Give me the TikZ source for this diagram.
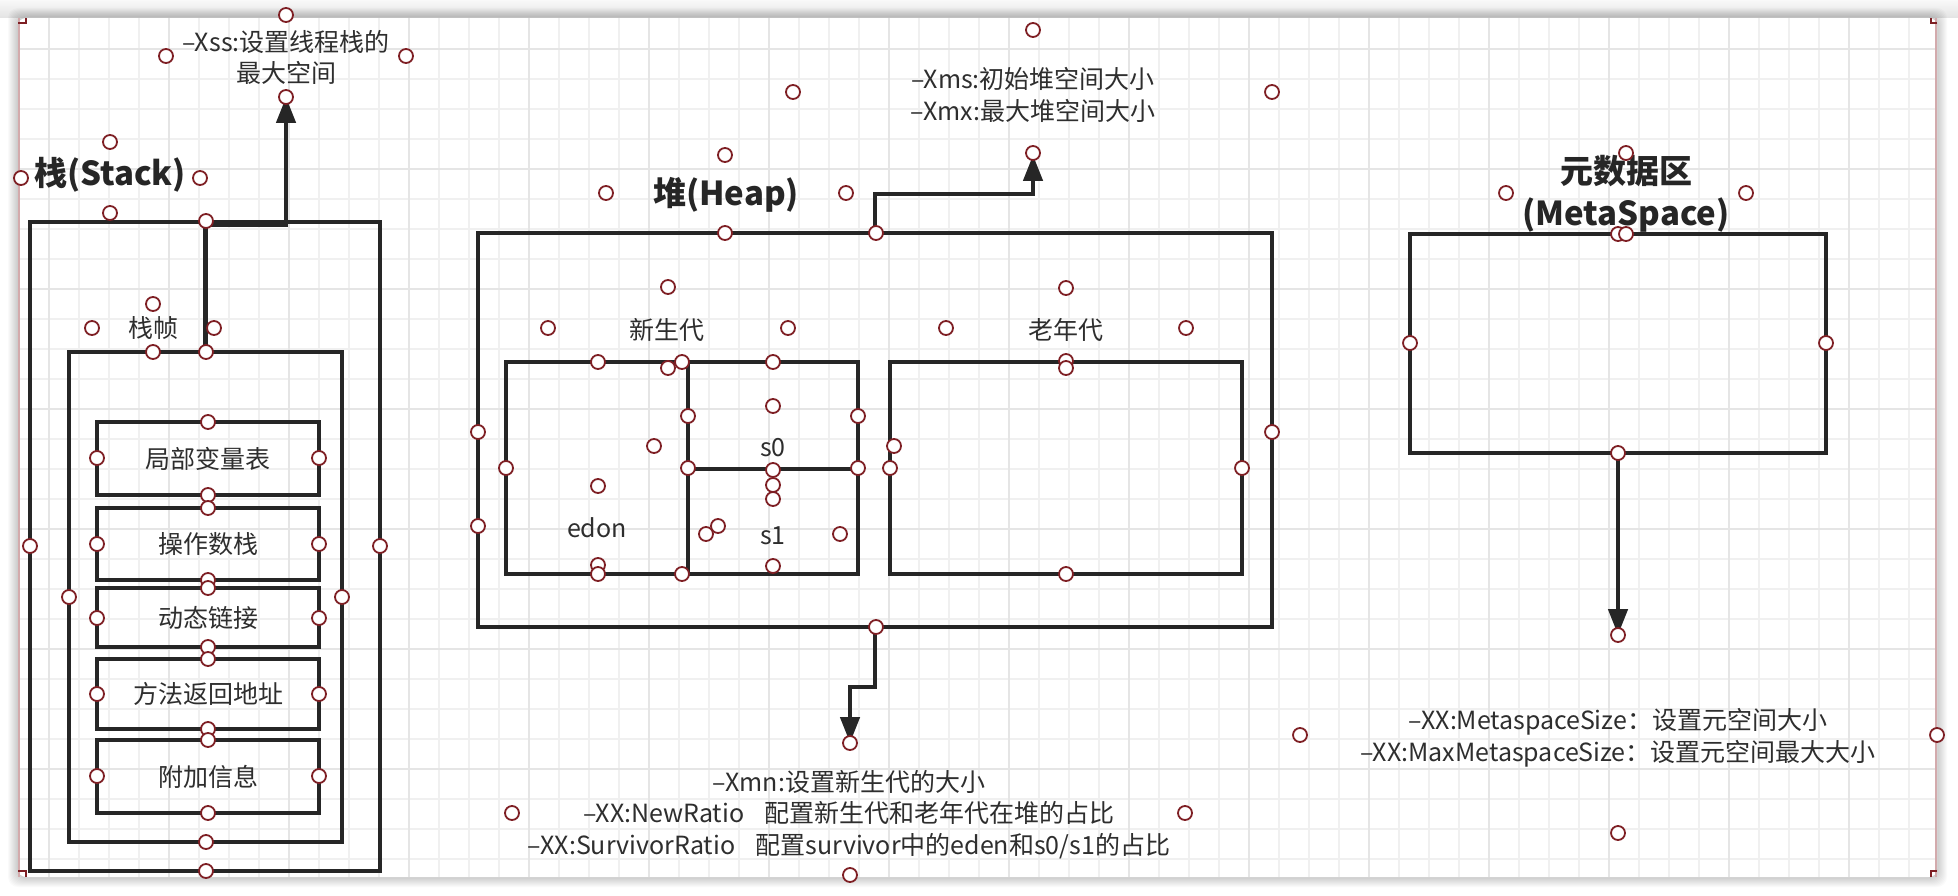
\documentclass[tikz,border=0pt]{standalone}
\usepackage{fontspec}
\setmainfont{Noto Sans CJK SC}
\usetikzlibrary{arrows.meta,positioning}

\definecolor{ink}{HTML}{262626}
\definecolor{txt}{HTML}{2E2E2E}
\definecolor{hred}{HTML}{7E1F24}
\definecolor{gridminor}{HTML}{F0F0F0}
\definecolor{gridmajor}{HTML}{E5E5E5}
\definecolor{edgered}{HTML}{D3AAAC}

\begin{document}
\begin{tikzpicture}[
    x=1pt, y=-1pt,
    % --- Box styles ---
    box/.style={draw=ink, line width=4.2pt, inner sep=0pt, text=txt,
                font=\fontsize{25}{30}\selectfont},
    rowbox/.style={box, minimum width=222pt},
    % --- Text styles ---
    title/.style={text=ink, font=\bfseries\fontsize{33}{42}\selectfont, align=center},
    lbl/.style={text=txt, font=\fontsize{25}{30}\selectfont},
    note/.style={text=txt, font=\fontsize{25}{31.5}\selectfont, align=center},
    % --- Connectors and handles ---
    arr/.style={draw=ink, line width=4.6pt, -{Triangle[length=26pt,width=19pt]}},
    handle/.style={draw=hred, fill=white, line width=1.8pt},
]

% === Canvas ===
\useasboundingbox (0,0) rectangle (1958,896);
\fill[white] (0,0) rectangle (1958,896);
\shade[top color=gray!5, bottom color=gray!22] (0,0) rectangle (1958,18);
\foreach \s in {1,...,10}
  \fill[black, opacity=0.018, rounded corners=10pt] ({18-\s},{18-\s}) rectangle ({1937+\s},{877+\s});
\fill[white, rounded corners=8pt] (18,18) rectangle (1937,877);
\begin{scope}
  \clip[rounded corners=8pt] (18,18) rectangle (1937,877);
  \foreach \gx in {49,79,...,1909} \draw[gridminor, line width=1.3pt] (\gx,18) -- (\gx,877);
  \foreach \gy in {49,79,...,859} \draw[gridminor, line width=1.3pt] (18,\gy) -- (1937,\gy);
  \foreach \gx in {49,169,...,1849} \draw[gridmajor, line width=1.5pt] (\gx,18) -- (\gx,877);
  \foreach \gy in {49,169,...,769} \draw[gridmajor, line width=1.5pt] (18,\gy) -- (1937,\gy);
\end{scope}
\draw[edgered, line width=1.5pt] (19,18) -- (19,877);
\draw[edgered, line width=1.5pt] (1936,18) -- (1936,877);
\draw[hred, line width=1.6pt] (18,23) -- (26,23) -- (26,18);
\draw[hred, line width=1.6pt] (1937,23) -- (1931,23) -- (1931,18);
\draw[hred, line width=1.6pt] (18,871) -- (26,871) -- (26,877);
\draw[hred, line width=1.6pt] (1937,871) -- (1931,871) -- (1931,877);

% === Stack ===
\node[title] (stacktitle) at (110,175) {栈(Stack)};
\node[box, minimum width=350pt, minimum height=649pt] (stack) at (205,546.5) {};
\node[lbl] (framelbl) at (153,328) {栈帧};
\node[box, minimum width=273pt, minimum height=490pt] (frame) at (205.5,597) {};
\node[rowbox, minimum height=73pt] (locals) at (208,458.5) {局部变量表};
\node[rowbox, minimum height=72pt] (operand) at (208,544) {操作数栈};
\node[rowbox, minimum height=59pt] (dynlink) at (208,617.5) {动态链接};
\node[rowbox, minimum height=70pt] (retaddr) at (208,694) {方法返回地址};
\node[rowbox, minimum height=73pt] (extra) at (208,776.5) {附加信息};

% === Heap ===
\node[title] (heaptitle) at (726,195) {堆(Heap)};
\node[box, minimum width=794pt, minimum height=394pt] (heap) at (875,430) {};
\node[lbl] (younglbl) at (667,330) {新生代};
\node[lbl] (oldlbl) at (1066,330) {老年代};
\node[box, minimum width=182pt, minimum height=212pt] (eden) at (597,468) {};
\node[box, minimum width=170pt, minimum height=107pt] (szero) at (773,415.5) {};
\node[box, minimum width=170pt, minimum height=105pt] (sone) at (773,521.5) {};
\node[box, minimum width=352pt, minimum height=212pt] (old) at (1066,468) {};
\node[lbl] (edenlbl) at (597,528) {edon};
\node[lbl] (szerolbl) at (773,448) {s0};
\node[lbl] (sonelbl) at (773,536) {s1};

% === MetaSpace ===
\node[title] (metatitle) at (1626,194) {元数据区\\(MetaSpace)};
\node[box, minimum width=416pt, minimum height=219pt] (meta) at (1618,343.5) {};

% === Parameter arrows ===
\coordinate (xssBend) at (286,225);
\coordinate (xssTip) at (286,97);
\draw[arr] (frame.north) |- (xssBend) -- (xssTip);
\coordinate (xmsBend) at (1033,194);
\coordinate (xmsTip) at (1033,155);
\draw[arr] (heap.north) |- (xmsBend) -- (xmsTip);
\coordinate (xmnBend) at (850,687);
\coordinate (xmnTip) at (850,743);
\draw[arr] (heap.south) |- (xmnBend) -- (xmnTip);
\coordinate (metaTip) at (1618,635);
\draw[arr] (meta.south) -- (metaTip);

% === Parameter notes ===
\node[note] (xssnote) at (286,57.5) {–Xss:设置线程栈的\\最大空间};
\node[note] (xmsnote) at (1033,95) {–Xms:初始堆空间大小\\–Xmx:最大堆空间大小};
\node[note] (xmnnote) at (849,814.5) {–Xmn:设置新生代的大小\\
  –XX:NewRatio\hspace{0.6em} 配置新生代和老年代在堆的占比\\
  –XX:SurvivorRatio\hspace{0.6em} 配置survivor中的eden和s0/s1的占比};
\node[note] (metanote) at (1618,738) {–XX:MetaspaceSize：设置元空间大小\\
  –XX:MaxMetaspaceSize：设置元空间最大大小};

% === Selection handles ===
\foreach \p in {(286,15),(166,56),(406,56),(286,97),(110,142),(21,178),(200,178),(110,213),
    (206,221),(153,304),(92,328),(214,328),(153,352),(206,352),
    (208,422),(97,458),(319,458),(208,495),(208,508),(97,544),(319,544),(208,580),
    (208,588),(97,618),(319,618),(208,647),(208,659),(97,694),(319,694),(208,729),
    (208,740),(97,776),(319,776),(208,813),(69,597),(342,597),(206,842),
    (30,546),(380,546),(206,871)}
  \draw[handle] \p circle[radius=7pt];
\foreach \p in {(725,155),(606,193),(846,193),(725,233),(876,233),(793,92),(1272,92),
    (1033,30),(1033,153),(668,287),(548,328),(788,328),
    (598,362),(668,368),(682,362),(773,362),(773,406),(688,416),(858,416),(654,446),
    (478,432),(478,526),(506,468),(688,468),(773,470),(858,468),(773,485),(773,499),
    (598,486),(718,526),(706,534),(840,534),(598,565),(598,574),(682,574),(773,566),
    (1066,288),(946,328),(1186,328),(1066,361),(1066,368),(894,446),(890,468),
    (1242,468),(1272,432),(1066,574),(876,627),(850,743),(512,813),(1185,813),(850,875)}
  \draw[handle] \p circle[radius=7pt];
\foreach \p in {(1626,153),(1506,193),(1746,193),(1618,234),(1626,234),(1410,343),
    (1826,343),(1618,453),(1618,635),(1300,735),(1937,735),(1618,833)}
  \draw[handle] \p circle[radius=7pt];

\end{tikzpicture}
\end{document}
